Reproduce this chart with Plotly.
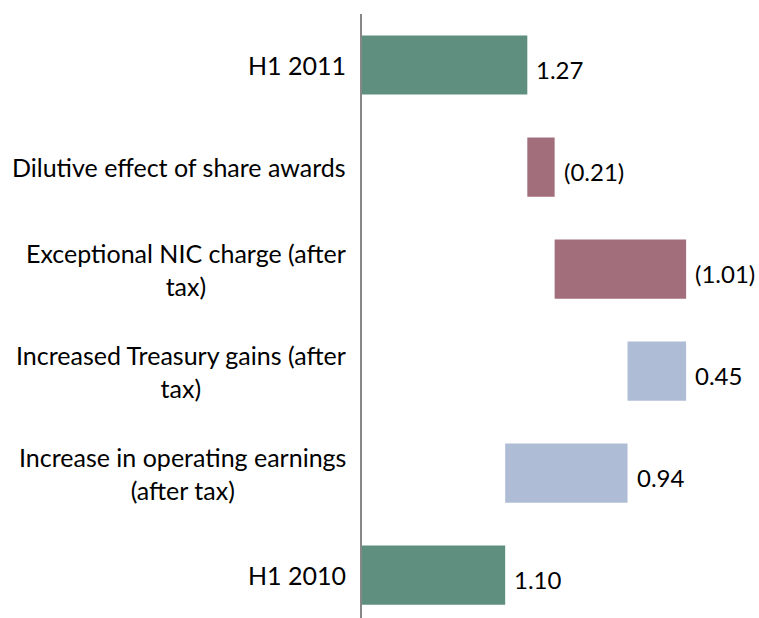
import plotly.graph_objects as go

categories = ["H1 2010", "Increase in operating earnings<br>(after tax)",
              "Increased Treasury gains (after<br>tax)", "Exceptional NIC charge (after<br>tax)",
              "Dilutive effect of share awards", "H1 2011"]
deltas = [1.10, 0.94, 0.45, -1.01, -0.21, 1.27]
measures = ["absolute", "relative", "relative", "relative", "relative", "total"]
value_labels = ["1.10", "0.94", "0.45", "(1.01)", "(0.21)", "1.27"]

GREEN = "#5F8F7F"
MAUVE = "#A26E7C"
BLUE = "#AFBCD6"
FONT = "Lato, Carlito, 'Open Sans', sans-serif"
FS = 25
FS_VAL = 24

ids = list(range(len(categories)))

fig = go.Figure(go.Waterfall(
    orientation="h",
    y=ids,
    x=deltas,
    measure=measures,
    increasing=dict(marker=dict(color=BLUE)),
    decreasing=dict(marker=dict(color=MAUVE)),
    totals=dict(marker=dict(color=GREEN)),
    connector=dict(visible=False),
    hoverinfo="skip",
))

# right end of each bar (computed from the data)
ends = []
running = 0.0
for d, m in zip(deltas, measures):
    if m == "absolute":
        start, running = 0.0, d
    elif m == "total":
        start = 0.0
    else:
        start = running
        running = running + d
    ends.append(max(start, running))

annotations = []
for i, (cat, lab, xe) in enumerate(zip(categories, value_labels, ends)):
    annotations.append(dict(x=0, xref="paper", y=i, yref="y", text=cat,
                            xanchor="right", yanchor="middle", align="center",
                            xshift=-14, showarrow=False,
                            font=dict(family=FONT, size=FS, color="#000000")))
    annotations.append(dict(x=xe, xref="x", y=i, yref="y", text=lab,
                            xanchor="left", yanchor="middle", align="left",
                            xshift=7, yshift=-4, showarrow=False,
                            font=dict(family=FONT, size=FS_VAL, color="#000000")))

fig.update_layout(
    width=759, height=618,
    margin=dict(l=362, r=0, t=14, b=0),
    paper_bgcolor="white", plot_bgcolor="white",
    showlegend=False,
    waterfallgap=0.42,
    font=dict(family=FONT, size=FS, color="#000000"),
    xaxis=dict(range=[0, 3.05], showgrid=False, zeroline=False,
               showticklabels=False, showline=False, ticks=""),
    yaxis=dict(range=[-0.42, 5.5], showgrid=False, zeroline=False,
               showticklabels=False, showline=True, linecolor="#878787",
               linewidth=2, ticks=""),
    annotations=annotations,
)

fig.write_html("out.html",
               config={"displayModeBar": False, "staticPlot": True},
               post_script="document.body.style.margin='0px';document.body.style.overflow='hidden';")
